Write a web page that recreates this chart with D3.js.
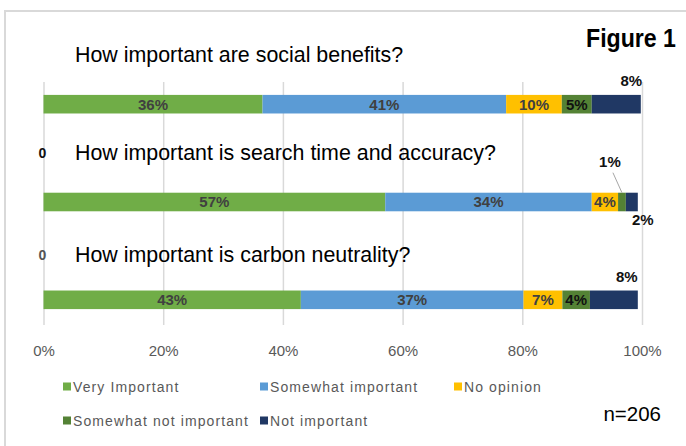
<!DOCTYPE html>
<html>
<head>
<meta charset="utf-8">
<script src="https://cdn.jsdelivr.net/npm/d3@7"></script>
<style>
  body { margin: 0; background: #fff; }
  svg { display: block; }
</style>
</head>
<body>
<script>
// survey answers, percent of n=206
var questions = ["How important are social benefits?",
                 "How important is search time and accuracy?",
                 "How important is carbon neutrality?"];
var series = ["Very Important", "Somewhat important", "No opinion",
              "Somewhat not important", "Not important"];
var colors = ["#70AD47", "#5B9BD5", "#FFC000", "#548235", "#203864"];

var social  = [36.6, 40.7, 9.3, 5.0, 8.2];
var search  = [57.1, 34.5, 4.4, 1.3, 2.0];
var carbon  = [43.0, 37.2, 6.5, 4.6, 8.0];

var socialLabels = ["36%", "41%", "10%", "5%", "8%"];
var searchLabels = ["57%", "34%", "4%", "1%", "2%"];
var carbonLabels = ["43%", "37%", "7%", "4%", "8%"];

var zeroLabels = ["", "0", "0"];
var ticks = [0, 20, 40, 60, 80, 100];

var width = 686,
    height = 446;

var svg = d3.select("body").append("svg")
    .attr("width", width)
    .attr("height", height);

// outer frame
svg.append("rect")
    .attr("x", 5).attr("y", 11)
    .attr("width", 720).attr("height", 470)
    .attr("fill", "none")
    .attr("stroke", "#d9d9d9")
    .attr("stroke-width", 2);

var x = d3.scaleLinear().domain([0, 100]).range([43.5, 642]);

var y = d3.scaleBand()
    .domain(questions)
    .range([46, 358])
    .paddingInner(0.81)
    .paddingOuter(0.5);

// gridlines + tick labels
var axis = d3.axisBottom(x)
    .tickValues(ticks)
    .tickFormat(function(d){ return d + "%"; })
    .tickSize(-243)
    .tickPadding(20);

var gAxis = svg.append("g")
    .attr("transform", "translate(0,325)")
    .call(axis);
gAxis.select(".domain").remove();
gAxis.selectAll(".tick line")
    .attr("stroke", "#d9d9d9")
    .attr("stroke-width", 1.5);
gAxis.selectAll(".tick text")
    .attr("fill", "#595959")
    .style("font-family", "'Liberation Sans', Arial, sans-serif")
    .style("font-size", "15px");

var rows = [
  {q: questions[0], vals: social, labels: socialLabels, zero: zeroLabels[0]},
  {q: questions[1], vals: search, labels: searchLabels, zero: zeroLabels[1]},
  {q: questions[2], vals: carbon, labels: carbonLabels, zero: zeroLabels[2]}
];

rows.forEach(function(r){
	var stack = [];
	var acc = 0;
	r.vals.forEach(function(v, i){
		stack.push({x0: acc, x1: acc + v, i: i, label: r.labels[i]});
		acc += v;
	});
	r.stack = stack;
});

// question titles
var titleOffset = [33, 33, 29];
svg.selectAll("text.title")
    .data(rows).enter()
    .append("text")
    .attr("class", "title")
    .attr("x", 75)
    .attr("y", function(d, i){ return y(d.q) - titleOffset[i]; })
    .attr("fill", "#000")
    .style("font-family", "'Liberation Sans', Arial, sans-serif")
    .style("font-size", "21.4px")
    .text(function(d){ return d.q; });

// stray zero labels
svg.selectAll("text.zero")
    .data(rows).enter()
    .append("text")
    .attr("class", "zero")
    .attr("x", x(0) - 1)
    .attr("y", function(d, i){ return y(d.q) - titleOffset[i] - 2; })
    .attr("text-anchor", "middle")
    .attr("fill", function(d, i){ return i == 1 ? "#111" : "#555"; })
    .style("font-family", "'Liberation Sans', Arial, sans-serif")
    .style("font-weight", "bold")
    .style("font-size", "14px")
    .text(function(d){ return d.zero; });

var bars = svg.selectAll("g.bar")
    .data(rows).enter()
    .append("g")
    .attr("class", "bar")
    .attr("transform", function(d){ return "translate(0," + y(d.q) + ")"; });

bars.selectAll("rect")
    .data(function(d){ return d.stack; }).enter()
    .append("rect")
    .attr("x", function(d){ return x(d.x0); })
    .attr("width", function(d){ return x(d.x1) - x(d.x0); })
    .attr("height", y.bandwidth())
    .attr("fill", function(d){ return colors[d.i]; });

// labels that sit inside the bar
var bh = y.bandwidth();
bars.selectAll("text.inside")
    .data(function(d){ return d.stack.filter(function(s){ return s.x1 - s.x0 >= 3.5 && s.i < 4; }); }).enter()
    .append("text")
    .attr("class", "inside")
    .attr("x", function(d){ return (x(d.x0) + x(d.x1)) / 2; })
    .attr("y", bh / 2 + 5.5)
    .attr("text-anchor", "middle")
    .attr("fill", function(d){ return d.i == 3 ? "#111" : "#404040"; })
    .style("font-family", "'Liberation Sans', Arial, sans-serif")
    .style("font-weight", "bold")
    .style("font-size", "15px")
    .text(function(d){ return d.label; });

// labels outside the bar (small segments)
var outside = {
	"0-4": {dx: 15, dy: -9},
	"1-3": {dx: -12, dy: -26, leader: true},
	"1-4": {dx: 11, dy: bh + 14},
	"2-4": {dx: 13, dy: -9}
};

bars.each(function(r, qi){
	var g = d3.select(this);
	r.stack.forEach(function(s){
		var o = outside[qi + "-" + s.i];
		if(!o) return;
		var cx = (x(s.x0) + x(s.x1)) / 2;
		if(o.leader){
			g.append("line")
			    .attr("x1", cx + o.dx + 3).attr("y1", o.dy + 6)
			    .attr("x2", cx).attr("y2", 0)
			    .attr("stroke", "#a6a6a6")
			    .attr("stroke-width", 1);
		}
		g.append("text")
		    .attr("x", cx + o.dx)
		    .attr("y", o.dy)
		    .attr("text-anchor", "middle")
		    .attr("fill", "#111")
		    .style("font-family", "'Liberation Sans', Arial, sans-serif")
		    .style("font-weight", "bold")
		    .style("font-size", "15px")
		    .text(s.label);
	});
});

// legend
var legend = svg.append("g").attr("class", "legend");
var legendPos = [[63, 387], [260, 387], [454, 387], [63, 421], [260, 421]];

legend.selectAll("rect")
    .data(series).enter()
    .append("rect")
    .attr("x", function(d, i){ return legendPos[i][0]; })
    .attr("y", function(d, i){ return legendPos[i][1] - 4.5; })
    .attr("width", 8)
    .attr("height", 8)
    .attr("fill", function(d, i){ return colors[i]; });

legend.selectAll("text")
    .data(series).enter()
    .append("text")
    .attr("x", function(d, i){ return legendPos[i][0] + 10; })
    .attr("y", function(d, i){ return legendPos[i][1] + 5; })
    .attr("fill", "#595959")
    .style("font-family", "'Liberation Sans', Arial, sans-serif")
    .style("font-size", "14px")
    .style("letter-spacing", "1.1px")
    .text(function(d){ return d; });

svg.append("text")
    .attr("x", 586)
    .attr("y", 47)
    .attr("textLength", 90)
    .attr("lengthAdjust", "spacingAndGlyphs")
    .attr("fill", "#000")
    .style("font-family", "'Liberation Sans', Arial, sans-serif")
    .style("font-weight", "bold")
    .style("font-size", "25px")
    .text("Figure 1");

svg.append("text")
    .attr("x", 661)
    .attr("y", 421)
    .attr("text-anchor", "end")
    .attr("fill", "#000")
    .style("font-family", "'Liberation Sans', Arial, sans-serif")
    .style("font-size", "20.5px")
    .text("n=206");
</script>
</body>
</html>
